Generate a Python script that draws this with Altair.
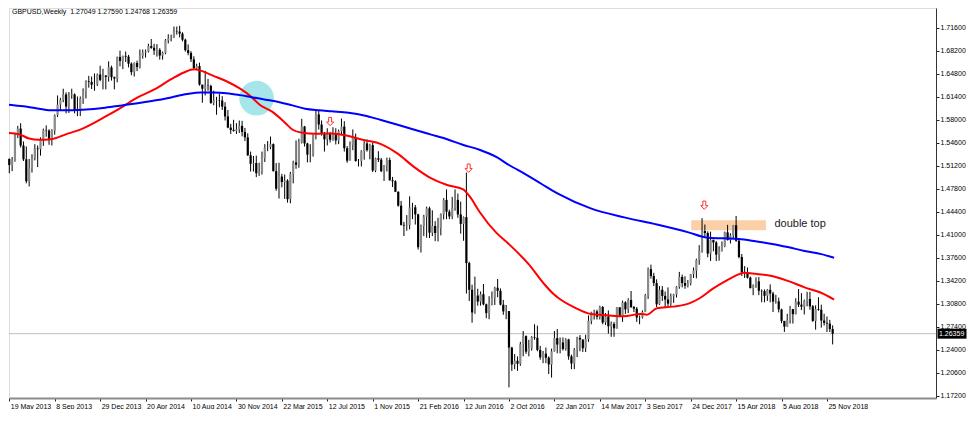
import json
import altair as alt
import pandas as pd

# ---------------- data ----------------
first_open = 1.5220

closes = [
    1.5130, 1.5195, 1.5570, 1.5670, 1.5420, 1.5215, 1.4890, 1.5090, 1.5235, 1.5375,
    1.5365, 1.5505, 1.5645, 1.5640, 1.5500, 1.5640, 1.5870, 1.6025, 1.6095, 1.6175,
    1.5995, 1.6165, 1.6175, 1.5945, 1.5930, 1.6110, 1.6220, 1.6370, 1.6360, 1.6320,
    1.6325, 1.6470, 1.6390, 1.6455, 1.6435, 1.6575, 1.6430, 1.6410, 1.6730, 1.6670,
    1.6745, 1.6735, 1.6630, 1.6505, 1.6640, 1.6580, 1.6745, 1.6795, 1.6810, 1.6890,
    1.6865, 1.6825, 1.6835, 1.6750, 1.6790, 1.6975, 1.7005, 1.7015, 1.7110, 1.7105,
    1.7075, 1.6985, 1.6830, 1.6790, 1.6695, 1.6565, 1.6595, 1.6320, 1.6260, 1.6305,
    1.6300, 1.6050, 1.6085, 1.6090, 1.6085, 1.5995, 1.5850, 1.5685, 1.5650, 1.5635,
    1.5660, 1.5710, 1.5620, 1.5540, 1.5275, 1.5150, 1.5160, 1.5010, 1.5030, 1.5235,
    1.5390, 1.5395, 1.5440, 1.5040, 1.4780, 1.4960, 1.4880, 1.4900, 1.4625, 1.4995,
    1.5170, 1.5135, 1.5465, 1.5700, 1.5450, 1.5285, 1.5290, 1.5570, 1.5880, 1.5730,
    1.5600, 1.5510, 1.5605, 1.5505, 1.5600, 1.5495, 1.5630, 1.5700, 1.5380, 1.5195,
    1.5430, 1.5540, 1.5190, 1.5190, 1.5335, 1.5450, 1.5350, 1.5425, 1.5050, 1.5230,
    1.5210, 1.5040, 1.5125, 1.5205, 1.4905, 1.4890, 1.4735, 1.4530, 1.4245, 1.4235,
    1.4245, 1.4500, 1.4505, 1.4400, 1.3915, 1.4230, 1.4365, 1.4490, 1.4130, 1.4230,
    1.4125, 1.4200, 1.4400, 1.4615, 1.4440, 1.4370, 1.4495, 1.4615, 1.4400, 1.4260,
    1.4360, 1.3680, 1.3285, 1.2950, 1.3200, 1.3110, 1.3220, 1.3070, 1.2940, 1.3080,
    1.3165, 1.3315, 1.3270, 1.3065, 1.2965, 1.2970, 1.2430, 1.2180, 1.2235, 1.2190,
    1.2480, 1.2600, 1.2370, 1.2420, 1.2585, 1.2575, 1.2395, 1.2285, 1.2340, 1.2280,
    1.2180, 1.2375, 1.2570, 1.2475, 1.2505, 1.2410, 1.2550, 1.2300, 1.2195, 1.2400,
    1.2575, 1.2550, 1.2420, 1.2555, 1.2825, 1.2950, 1.2965, 1.2885, 1.3030, 1.2800,
    1.2890, 1.2745, 1.2780, 1.2715, 1.3025, 1.2885, 1.3100, 1.2995, 1.3135, 1.3030,
    1.3005, 1.2875, 1.2880, 1.2955, 1.3205, 1.3590, 1.3490, 1.3385, 1.3070, 1.3285,
    1.3195, 1.3140, 1.3080, 1.3190, 1.3215, 1.3330, 1.3475, 1.3385, 1.3345, 1.3380,
    1.3515, 1.3570, 1.3725, 1.3860, 1.4155, 1.4125, 1.3820, 1.4025, 1.3985, 1.3805,
    1.3850, 1.3930, 1.4135, 1.4020, 1.4090, 1.4240, 1.4010, 1.3770, 1.3540, 1.3545,
    1.3465, 1.3310, 1.3350, 1.3410, 1.3270, 1.3265, 1.3195, 1.3285, 1.3230, 1.3110,
    1.3115, 1.2995, 1.2825, 1.2740, 1.2840, 1.3000, 1.2925, 1.3110, 1.3065, 1.3035,
    1.3120, 1.3150, 1.3040, 1.2825, 1.3000, 1.2990, 1.2830, 1.2795, 1.2785, 1.27049,
    1.26359,
]

highs = [
    1.5230, 1.5250, 1.5605, 1.5710, 1.5750, 1.5480, 1.5405, 1.5220, 1.5290, 1.5440,
    1.5420, 1.5540, 1.5670, 1.5717, 1.5660, 1.5660, 1.5880, 1.6160, 1.6125, 1.6260,
    1.6205, 1.6210, 1.6260, 1.6190, 1.6145, 1.6145, 1.6265, 1.6385, 1.6450, 1.6440,
    1.6485, 1.6485, 1.6600, 1.6555, 1.6460, 1.6665, 1.6600, 1.6440, 1.6735, 1.6823,
    1.6750, 1.6810, 1.6760, 1.6650, 1.6650, 1.6675, 1.6840, 1.6840, 1.6840, 1.6925,
    1.6996, 1.6925, 1.6920, 1.6860, 1.6810, 1.6995, 1.7065, 1.7060, 1.7180, 1.7180,
    1.7191, 1.7095, 1.7000, 1.6915, 1.6815, 1.6740, 1.6630, 1.6645, 1.6320, 1.6525,
    1.6405, 1.6320, 1.6230, 1.6140, 1.6185, 1.6150, 1.6060, 1.5945, 1.5740, 1.5800,
    1.5750, 1.5790, 1.5785, 1.5680, 1.5600, 1.5330, 1.5265, 1.5270, 1.5165, 1.5330,
    1.5440, 1.5485, 1.5552, 1.5450, 1.5160, 1.5165, 1.5000, 1.4990, 1.4920, 1.5030,
    1.5195, 1.5495, 1.5520, 1.5815, 1.5710, 1.5460, 1.5440, 1.5585, 1.5930, 1.5930,
    1.5790, 1.5620, 1.5675, 1.5620, 1.5690, 1.5675, 1.5655, 1.5818, 1.5780, 1.5410,
    1.5480, 1.5658, 1.5595, 1.5220, 1.5350, 1.5510, 1.5510, 1.5445, 1.5460, 1.5240,
    1.5335, 1.5235, 1.5130, 1.5240, 1.5240, 1.4955, 1.4905, 1.4740, 1.4600, 1.4290,
    1.4390, 1.4668, 1.4570, 1.4540, 1.4410, 1.4250, 1.4395, 1.4515, 1.4515, 1.4460,
    1.4300, 1.4350, 1.4415, 1.4640, 1.4770, 1.4470, 1.4660, 1.4770, 1.4710, 1.4590,
    1.4370, 1.5018, 1.3700, 1.3360, 1.3480, 1.3300, 1.3260, 1.3370, 1.3080, 1.3190,
    1.3260, 1.3330, 1.3445, 1.3305, 1.3135, 1.3060, 1.2970, 1.2440, 1.2335, 1.2300,
    1.2515, 1.2675, 1.2610, 1.2545, 1.2600, 1.2775, 1.2755, 1.2455, 1.2380, 1.2430,
    1.2300, 1.2415, 1.2675, 1.2705, 1.2580, 1.2580, 1.2570, 1.2560, 1.2325, 1.2425,
    1.2590, 1.2615, 1.2550, 1.2620, 1.2905, 1.2960, 1.2990, 1.2990, 1.3050, 1.3045,
    1.2940, 1.2980, 1.2815, 1.2810, 1.3030, 1.3030, 1.3125, 1.3115, 1.3160, 1.3267,
    1.3045, 1.3030, 1.2905, 1.2980, 1.3225, 1.3615, 1.3657, 1.3535, 1.3440, 1.3340,
    1.3340, 1.3260, 1.3320, 1.3230, 1.3225, 1.3340, 1.3550, 1.3510, 1.3485, 1.3430,
    1.3520, 1.3615, 1.3745, 1.3945, 1.4345, 1.4250, 1.4150, 1.4145, 1.4025, 1.4005,
    1.3930, 1.4000, 1.4145, 1.4245, 1.4120, 1.4245, 1.4377, 1.4050, 1.3815, 1.3635,
    1.3615, 1.3480, 1.3365, 1.3470, 1.3475, 1.3290, 1.3290, 1.3295, 1.3365, 1.3255,
    1.3210, 1.3170, 1.3005, 1.2815, 1.2930, 1.3045, 1.3000, 1.3160, 1.3297, 1.3235,
    1.3140, 1.3255, 1.3255, 1.3060, 1.3055, 1.3175, 1.3065, 1.2930, 1.2890, 1.2840,
    1.27590,
]

lows = [
    1.5009, 1.5040, 1.5180, 1.5530, 1.5390, 1.5190, 1.4860, 1.4814, 1.5020, 1.5200,
    1.5100, 1.5270, 1.5415, 1.5550, 1.5430, 1.5420, 1.5580, 1.5840, 1.5945, 1.6060,
    1.5895, 1.5900, 1.6110, 1.5895, 1.5855, 1.5855, 1.6035, 1.6115, 1.6275, 1.6255,
    1.6230, 1.6300, 1.6370, 1.6250, 1.6250, 1.6365, 1.6380, 1.6250, 1.6355, 1.6590,
    1.6550, 1.6655, 1.6575, 1.6460, 1.6440, 1.6520, 1.6560, 1.6705, 1.6720, 1.6795,
    1.6850, 1.6760, 1.6735, 1.6690, 1.6690, 1.6770, 1.6930, 1.6960, 1.7010, 1.7060,
    1.7020, 1.6960, 1.6810, 1.6755, 1.6655, 1.6555, 1.6535, 1.6305, 1.6052, 1.6160,
    1.6230, 1.6035, 1.6015, 1.5875, 1.5985, 1.5945, 1.5790, 1.5675, 1.5590, 1.5625,
    1.5590, 1.5605, 1.5555, 1.5485, 1.5265, 1.5035, 1.5035, 1.4952, 1.4970, 1.4990,
    1.5175, 1.5335, 1.5365, 1.5035, 1.4750, 1.4635, 1.4800, 1.4630, 1.4575, 1.4565,
    1.4860, 1.5075, 1.5090, 1.5450, 1.5405, 1.5170, 1.5170, 1.5255, 1.5510, 1.5655,
    1.5565, 1.5330, 1.5420, 1.5465, 1.5490, 1.5435, 1.5440, 1.5575, 1.5330, 1.5165,
    1.5200, 1.5350, 1.5180, 1.5110, 1.5110, 1.5210, 1.5330, 1.5215, 1.5026, 1.5025,
    1.5175, 1.5025, 1.4895, 1.5035, 1.4900, 1.4805, 1.4730, 1.4515, 1.4235, 1.4080,
    1.4160, 1.4180, 1.4330, 1.4250, 1.3880, 1.3836, 1.4080, 1.4055, 1.4050, 1.4080,
    1.4005, 1.4000, 1.4090, 1.4325, 1.4330, 1.4330, 1.4330, 1.4455, 1.4350, 1.4115,
    1.4010, 1.3229, 1.3120, 1.2798, 1.2930, 1.3050, 1.3050, 1.3055, 1.2865, 1.2850,
    1.3055, 1.3060, 1.3175, 1.3055, 1.2915, 1.2850, 1.1841, 1.2085, 1.2110, 1.2085,
    1.2160, 1.2300, 1.2335, 1.2300, 1.2385, 1.2545, 1.2375, 1.2250, 1.2200, 1.2200,
    1.2040, 1.1986, 1.2370, 1.2345, 1.2345, 1.2385, 1.2385, 1.2250, 1.2110, 1.2110,
    1.2290, 1.2375, 1.2365, 1.2365, 1.2515, 1.2775, 1.2845, 1.2845, 1.2845, 1.2775,
    1.2765, 1.2635, 1.2590, 1.2590, 1.2710, 1.2880, 1.2810, 1.2930, 1.2940, 1.3015,
    1.2955, 1.2810, 1.2775, 1.2860, 1.2965, 1.3150, 1.3450, 1.3340, 1.3030, 1.3060,
    1.3120, 1.3025, 1.3040, 1.3040, 1.3090, 1.3170, 1.3300, 1.3320, 1.3300, 1.3320,
    1.3350, 1.3460, 1.3455, 1.3655, 1.3835, 1.4065, 1.3765, 1.3712, 1.3855, 1.3710,
    1.3715, 1.3865, 1.3915, 1.4015, 1.3970, 1.4035, 1.3995, 1.3750, 1.3490, 1.3460,
    1.3450, 1.3305, 1.3205, 1.3315, 1.3205, 1.3100, 1.3100, 1.3120, 1.3100, 1.2955,
    1.3080, 1.2950, 1.2790, 1.2662, 1.2740, 1.2785, 1.2785, 1.2920, 1.3030, 1.2985,
    1.2920, 1.3040, 1.2990, 1.2810, 1.2695, 1.2975, 1.2725, 1.2755, 1.2660, 1.2660,
    1.24768,
]

# moving averages (week index, price)
red_ma_weeks = [-0.9, 3.6, 7.0, 10.5, 14.7, 19.9, 25.8, 33.8, 39.7, 45.2, 51.1, 57.0,
                61.5, 65.1, 67.4, 71.9, 76.5, 81.3, 84.8, 88.2, 92.7, 97.3, 99.7, 103.2,
                107.7, 113.6, 119.5, 125.0, 130.9, 136.8, 142.4, 148.3, 154.2, 159.7,
                162.1, 165.6, 171.5, 176.0, 183.0, 188.2, 192.2, 193.4, 199.2, 204.8,
                210.7, 216.5, 222.2, 224.6, 228.1, 233.9, 239.5, 243.0, 247.7, 252.4,
                256.9, 258.6, 262.8, 268.6, 274.2, 280.1, 285.9, 290.5]
red_ma_values = [1.5607, 1.5584, 1.5522, 1.5503, 1.5513, 1.5584, 1.5670, 1.5846, 1.5989,
                 1.6131, 1.6250, 1.6400, 1.6500, 1.6546, 1.6527, 1.6450, 1.6370, 1.6260,
                 1.6156, 1.6022, 1.5917, 1.5750, 1.5656, 1.5607, 1.5593, 1.5598, 1.5560,
                 1.5499, 1.5441, 1.5299, 1.5107, 1.4941, 1.4836, 1.4774, 1.4670, 1.4440,
                 1.4130, 1.3960, 1.3660, 1.3380, 1.3203, 1.3164, 1.3021, 1.2927, 1.2907,
                 1.2893, 1.2927, 1.2917, 1.3013, 1.3036, 1.3084, 1.3156, 1.3299, 1.3417,
                 1.3513, 1.3536, 1.3521, 1.3489, 1.3417, 1.3321, 1.3241, 1.3141]

blue_ma_weeks = [-0.9, 5.0, 10.5, 14.0, 19.9, 25.8, 33.8, 39.7, 45.2, 51.1, 57.0, 62.6,
                 67.4, 71.9, 76.5, 81.3, 85.8, 90.3, 95.2, 99.7, 104.2, 109.1, 113.6,
                 119.5, 125.0, 130.9, 136.8, 142.4, 148.3, 154.2, 159.7, 165.6, 171.5,
                 176.0, 182.0, 187.5, 193.4, 204.8, 216.6, 228.1, 239.5, 245.4, 251.3,
                 256.9, 262.8, 268.7, 274.2, 280.1, 286.0, 290.5]
blue_ma_values = [1.6027, 1.5999, 1.5964, 1.5941, 1.5941, 1.5950, 1.5979, 1.6013, 1.6046,
                  1.6084, 1.6131, 1.6180, 1.6203, 1.6203, 1.6193, 1.6165, 1.6131, 1.6098,
                  1.6060, 1.6013, 1.5964, 1.5941, 1.5925, 1.5903, 1.5865, 1.5798, 1.5727,
                  1.5656, 1.5584, 1.5513, 1.5431, 1.5356, 1.5250, 1.5131, 1.4990, 1.4850,
                  1.4703, 1.4489, 1.4356, 1.4250, 1.4131, 1.4060, 1.4046, 1.4036, 1.4003,
                  1.3964, 1.3917, 1.3860, 1.3813, 1.3760]

date_labels = ["19 May 2013", "8 Sep 2013", "29 Dec 2013", "20 Apr 2014", "10 Aug 2014",
               "30 Nov 2014", "22 Mar 2015", "12 Jul 2015", "1 Nov 2015", "21 Feb 2016",
               "12 Jun 2016", "2 Oct 2016", "22 Jan 2017", "14 May 2017", "3 Sep 2017",
               "24 Dec 2017", "15 Apr 2018", "5 Aug 2018", "25 Nov 2018"]
label_weeks = [0, 16, 32, 48, 64, 80, 96, 112, 128, 144, 160, 176, 192, 208, 224, 240,
               256, 272, 288]
price_ticks = [1.17200, 1.20600, 1.24000, 1.27400, 1.30800, 1.34200, 1.37600, 1.41000,
               1.44400, 1.47800, 1.51200, 1.54600, 1.58000, 1.61400, 1.64800, 1.68200,
               1.71600]

title_text = "GBPUSD,Weekly\u00a0\u00a01.27049 1.27590 1.24768 1.26359"
last_price = 1.26359
last_price_text = "1.26359"

arrow_weeks = [113.0, 161.8, 244.8]
arrow_prices = [1.5774, 1.5084, 1.4536]

circle_week = [87.1]
circle_price = [1.6120]

double_top_box = {"w1": 240.2, "w2": 266.5, "p1": 1.4313, "p2": 1.4164}
double_top_text = {"w": 269.5, "p": 1.4260, "t": "double top"}

# ---------------- chart ----------------
W, H = 927, 390
n = min(len(closes), len(highs), len(lows))
opens = [first_open] + closes[: n - 1]
candles = pd.DataFrame({
    "w": list(range(n)),
    "o": opens[:n],
    "h": highs[:n],
    "l": lows[:n],
    "c": closes[:n],
})
candles["col"] = ["#8a8a8a" if c >= o else "#000000" for o, c in zip(candles["o"], candles["c"])]

xscale = alt.Scale(domain=[-0.1, 326.4], nice=False, zero=False)
yscale = alt.Scale(domain=[1.1684, 1.7454], nice=False, zero=False)

label_expr = json.dumps(date_labels) + "[round(datum.value/16)]"
x_axis = alt.Axis(values=label_weeks, labelExpr=label_expr, labelAlign="left",
                  labelBaseline="top", labelFlush=False, labelOverlap=False,
                  labelBound=False, tickSize=3, tickColor="#222", labelPadding=1,
                  labelOffset=1, labelFontSize=7, labelFont="Liberation Sans",
                  labelColor="#000", domain=True, domainColor="#8c8c8c", domainWidth=2,
                  grid=False, title=None)
y_axis = alt.Axis(orient="right", values=price_ticks, format=".5f", labelAlign="left",
                  labelBaseline="middle", labelFlush=False, labelOverlap=False,
                  labelBound=False, tickSize=3, tickColor="#222", labelPadding=1,
                  labelFontSize=7, labelFont="Liberation Sans", labelColor="#000",
                  domain=True, domainColor="#333", domainWidth=1, grid=False, title=None)


def X(f):
    return alt.X(f, type="quantitative", scale=xscale, axis=x_axis)


def Y(f):
    return alt.Y(f, type="quantitative", scale=yscale, axis=y_axis)


circle = alt.Chart(pd.DataFrame({"w": circle_week, "p": circle_price})).mark_point(
    filled=True, shape="circle", size=1200, color="#a6e6ea", opacity=1
).encode(x=X("w"), y=Y("p"))

hline = alt.Chart(pd.DataFrame({"p": [last_price]})).mark_rule(
    color="#c0c0c0", strokeWidth=1
).encode(y=Y("p"))

box = alt.Chart(pd.DataFrame([double_top_box])).mark_rect(color="#fbd0a6", opacity=1).encode(
    x=X("w1"), x2=alt.X2("w2"), y=Y("p1"), y2=alt.Y2("p2")
)

wicks = alt.Chart(candles).mark_rule(color="black", strokeWidth=1).encode(
    x=X("w"), y=Y("l"), y2=alt.Y2("h")
)

bodies = alt.Chart(candles).mark_rule(strokeWidth=2.2, strokeCap="butt").encode(
    x=X("w"), y=Y("o"), y2=alt.Y2("c"), color=alt.Color("col:N", scale=None)
)

red_ma = alt.Chart(pd.DataFrame({"w": red_ma_weeks, "p": red_ma_values})).mark_line(
    color="#ff0000", strokeWidth=2, interpolate="monotone", clip=True
).encode(x=X("w"), y=Y("p"))

blue_ma = alt.Chart(pd.DataFrame({"w": blue_ma_weeks, "p": blue_ma_values})).mark_line(
    color="#0000ff", strokeWidth=2, interpolate="monotone", clip=True
).encode(x=X("w"), y=Y("p"))

arrow_path = "M -0.35 -1 L 0.35 -1 L 0.35 0.1 L 0.85 0.1 L 0 1 L -0.85 0.1 L -0.35 0.1 Z"
arrows = alt.Chart(pd.DataFrame({"w": arrow_weeks, "p": arrow_prices})).mark_point(
    shape=arrow_path, filled=False, stroke="#ff3030", strokeWidth=1, size=70, opacity=1
).encode(x=X("w"), y=Y("p"))

dt_text = alt.Chart(pd.DataFrame([double_top_text])).mark_text(
    align="left", baseline="middle", font="Liberation Sans", fontSize=11, color="#1a1a1a"
).encode(x=X("w"), y=Y("p"), text="t:N")

title = alt.Chart(pd.DataFrame({"t": [title_text]})).mark_text(
    align="left", baseline="middle", font="Liberation Sans", fontSize=7, color="#000"
).encode(x=alt.value(3), y=alt.value(4), text="t:N")

tag = alt.Chart(pd.DataFrame({"p": [last_price]})).mark_tick(
    color="black", thickness=10, size=29, opacity=1
).encode(y=Y("p"), x=alt.value(W + 16))

tag_text = alt.Chart(pd.DataFrame({"p": [last_price], "t": [last_price_text]})).mark_text(
    align="left", baseline="middle", font="Liberation Sans", fontSize=7, color="white"
).encode(y=Y("p"), x=alt.value(W + 3), text="t:N")

chart = alt.layer(
    circle, hline, box, wicks, bodies, red_ma, blue_ma, arrows, dt_text, title, tag, tag_text
).properties(
    width=W, height=H, padding={"left": 0, "top": 0, "right": 0, "bottom": 0}
).configure_view(stroke="#9c9c9c", strokeWidth=1).configure(background="white")

chart.save("out.html", embed_options={"renderer": "svg", "actions": False})
